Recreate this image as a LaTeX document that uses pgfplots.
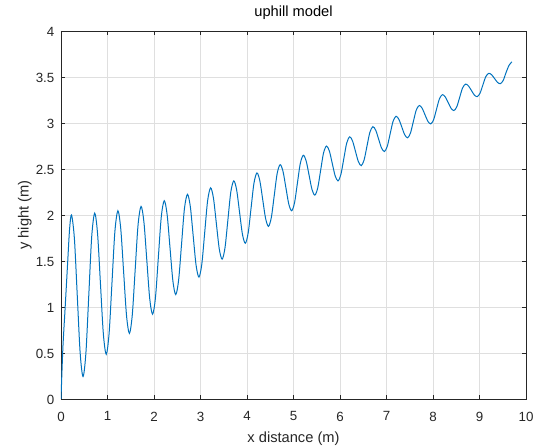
\documentclass[border=0pt]{standalone}
\usepackage{fontspec}
\setmainfont{Liberation Sans}
\usepackage{pgfplots}
\pgfplotsset{compat=1.18}
\definecolor{mlblue}{HTML}{0072BD}
\definecolor{mlaxis}{HTML}{262626}
\definecolor{mlgrid}{HTML}{DFDFDF}

\begin{document}
\begin{tikzpicture}
\begin{axis}[
    scale only axis,
    width=348.75pt, height=276pt,
    xmin=0, xmax=10, ymin=0, ymax=4,
    xtick={0,1,...,10},
    ytick={0,0.5,...,4},
    yticklabels={0,0.5,1,1.5,2,2.5,3,3.5,4},
    grid=major,
    major grid style={mlgrid, line width=0.5pt},
    axis line style={mlaxis, line width=0.5pt},
    tick style={mlaxis, line width=0.5pt},
    tick align=inside,
    major tick length=3pt,
    /pgf/number format/assume math mode=true,
    tick label style={font=\fontsize{10}{12}\selectfont, text=mlaxis},
    xticklabel style={yshift=-6pt},
    yticklabel style={xshift=-1.5pt, yshift=-1pt},
    label style={font=\fontsize{11}{13}\selectfont, text=mlaxis},
    title style={font=\fontsize{11}{13}\selectfont, text=black,
        at={(axis description cs:0.5,1)}, anchor=base, yshift=5pt},
    title={uphill model},
    xlabel={x distance (m)},
    ylabel={y hight (m)},
    xlabel style={at={(axis description cs:0.5,0)}, anchor=north, yshift=-21.5pt},
    ylabel style={at={(axis description cs:-0.053,0.5)}, anchor=south},
]
\addplot[mlblue, line width=0.75pt, smooth, tension=0.5] coordinates {
(0,0) (0.04,0.55) (0.09,1.0) (0.145,1.5) (0.185,1.85) (0.226,2.000)
(0.288,1.744) (0.350,1.122) (0.412,0.500) (0.474,0.244)
(0.536,0.503) (0.598,1.132) (0.660,1.761) (0.7245,2.020)
(0.7865,1.796) (0.8485,1.253) (0.9105,0.710) (0.9725,0.486)
(1.0345,0.714) (1.0965,1.266) (1.1585,1.818) (1.223,2.046)
(1.285,1.851) (1.347,1.380) (1.409,0.908) (1.471,0.713)
(1.533,0.914) (1.595,1.403) (1.657,1.892) (1.7215,2.093)
(1.7835,1.922) (1.8455,1.508) (1.9075,1.093) (1.9695,0.922)
(2.0315,1.102) (2.0935,1.539) (2.1555,1.975) (2.220,2.155)
(2.282,2.006) (2.344,1.645) (2.406,1.284) (2.468,1.135)
(2.530,1.294) (2.592,1.680) (2.654,2.066) (2.7185,2.225)
(2.7805,2.094) (2.8425,1.775) (2.9045,1.456) (2.9665,1.325)
(3.0285,1.467) (3.0905,1.810) (3.1525,2.153) (3.217,2.295)
(3.279,2.182) (3.341,1.908) (3.403,1.633) (3.465,1.520)
(3.527,1.644) (3.589,1.946) (3.651,2.247) (3.7155,2.371)
(3.7775,2.272) (3.8395,2.032) (3.9015,1.792) (3.9635,1.693)
(4.0255,1.805) (4.0875,2.075) (4.1495,2.345) (4.214,2.457)
(4.276,2.372) (4.338,2.167) (4.400,1.962) (4.462,1.877)
(4.524,1.975) (4.586,2.212) (4.648,2.449) (4.7125,2.547)
(4.7745,2.474) (4.8365,2.297) (4.8985,2.119) (4.9605,2.046)
(5.0225,2.134) (5.0845,2.348) (5.1465,2.561) (5.211,2.649)
(5.273,2.586) (5.335,2.433) (5.397,2.279) (5.459,2.216)
(5.521,2.294) (5.583,2.483) (5.645,2.672) (5.7095,2.750)
(5.7715,2.695) (5.8335,2.561) (5.8955,2.426) (5.9575,2.371)
(6.0195,2.441) (6.0815,2.611) (6.1435,2.780) (6.208,2.850)
(6.270,2.804) (6.332,2.693) (6.394,2.582) (6.456,2.536)
(6.518,2.598) (6.580,2.748) (6.642,2.898) (6.7065,2.960)
(6.7685,2.921) (6.8305,2.825) (6.8925,2.729) (6.9545,2.690)
(7.0165,2.746) (7.0785,2.882) (7.1405,3.017) (7.205,3.073)
(7.267,3.039) (7.329,2.956) (7.391,2.873) (7.453,2.839)
(7.515,2.890) (7.577,3.015) (7.639,3.139) (7.7035,3.190)
(7.7655,3.161) (7.8275,3.090) (7.8895,3.019) (7.9515,2.990)
(8.0135,3.036) (8.0755,3.149) (8.1375,3.262) (8.202,3.308)
(8.264,3.283) (8.326,3.222) (8.388,3.160) (8.450,3.135)
(8.512,3.177) (8.574,3.279) (8.636,3.381) (8.7005,3.423)
(8.7625,3.403) (8.8245,3.355) (8.8865,3.306) (8.9485,3.286)
(9.0105,3.323) (9.0725,3.413) (9.1345,3.503) (9.199,3.540)
(9.261,3.524) (9.323,3.484) (9.385,3.443) (9.447,3.427)
(9.509,3.462) (9.571,3.548) (9.633,3.625) (9.697,3.665)
};
\end{axis}
\pgfresetboundingbox
\useasboundingbox ([xshift=-45.75pt,yshift=-36.75pt]current axis.south west)
    rectangle ([xshift=7.5pt,yshift=23.25pt]current axis.north east);
\end{tikzpicture}
\end{document}
